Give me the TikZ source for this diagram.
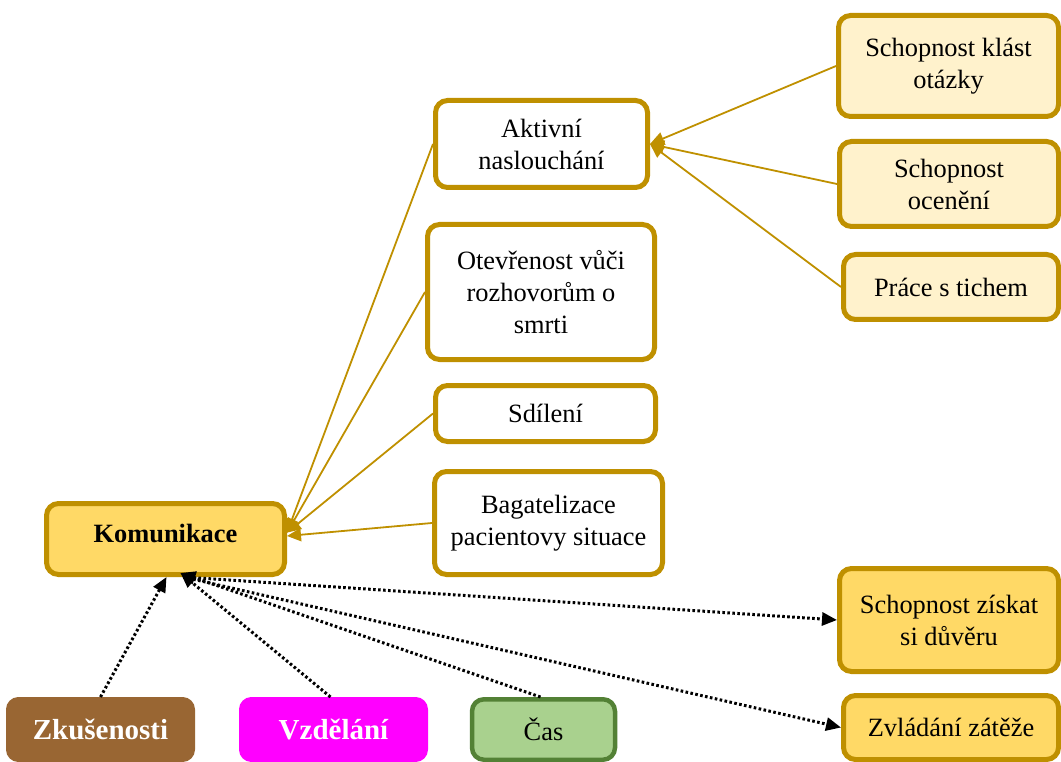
\documentclass[tikz,border=0pt]{standalone}
\usepackage{fontspec}
\setmainfont{Liberation Serif}
\usetikzlibrary{arrows.meta,calc}

\definecolor{gold}{HTML}{BF9000}
\definecolor{goldfill}{HTML}{FFD966}
\definecolor{lightfill}{HTML}{FFF2CC}
\definecolor{brownfill}{HTML}{996633}
\definecolor{magentafill}{HTML}{FF00FF}
\definecolor{greenfill}{HTML}{A9D18E}
\definecolor{greenedge}{HTML}{538135}

\tikzset{
  box/.style={rectangle, rounded corners=12pt, line width=5pt, draw=gold,
    align=center, inner sep=0pt,
    font=\fontsize{26.4}{32}\selectfont},
  whitebox/.style={box, fill=white},
  lightbox/.style={box, fill=lightfill},
  yellowbox/.style={box, fill=goldfill},
  factor/.style={rectangle, rounded corners=12pt, line width=1pt,
    align=center, inner sep=0pt, text=white,
    font=\fontsize{29}{34}\selectfont\bfseries},
  goldlink/.style={draw=gold, line width=1.8pt,
    -{Triangle[length=14pt,width=13pt]}},
  dotlink/.style={draw=black, line width=3pt, dash pattern=on 2.6pt off 2.4pt,
    -{Triangle[length=15pt,width=13pt]}},
}

\begin{document}
\begin{tikzpicture}[x=1pt,y=-1pt]
\useasboundingbox (0,0) rectangle (1061,762);

% central node and the four aspects of communication
\node[yellowbox, minimum width=238pt, minimum height=71pt,
      font=\fontsize{26.4}{32}\selectfont\bfseries] (kom) at (165.5,539)
      {\raisebox{5pt}[\height][\depth]{Komunikace}};
\node[whitebox, minimum width=212pt, minimum height=87pt] (akt) at (541.5,144) {Aktivní\\naslouchání};
\node[whitebox, minimum width=227pt, minimum height=135pt] (otev) at (541,292) {Otevřenost vůči\\rozhovorům o\\smrti};
\node[whitebox, minimum width=220pt, minimum height=56pt] (sdil) at (545.5,413.5) {Sdílení};
\node[whitebox, minimum width=228pt, minimum height=103pt] (bag) at (548.5,523) {Bagatelizace\\pacientovy situace};

% skills of active listening
\node[lightbox, minimum width=220pt, minimum height=101pt] (klast) at (948.5,66) {Schopnost klást\\otázky};
\node[lightbox, minimum width=219pt, minimum height=85pt] (ocen) at (949,184) {Schopnost\\ocenění};
\node[lightbox, minimum width=215pt, minimum height=65pt] (ticho) at (951,287) {Práce s tichem};

% outcomes
\node[yellowbox, minimum width=219pt, minimum height=103pt] (duv) at (949,620) {Schopnost získat\\si důvěru};
\node[yellowbox, minimum width=215pt, minimum height=64pt] (zvl) at (951,727.5) {Zvládání zátěže};

% influencing factors
\node[factor, fill=brownfill, draw=brownfill, minimum width=188pt, minimum height=64pt] (zk) at (100.5,729.5) {Zkušenosti};
\node[factor, fill=magentafill, draw=magentafill, minimum width=188pt, minimum height=64pt] (vzd) at (333.5,729.5) {Vzdělání};
\node[box, fill=greenfill, draw=greenedge, line width=4.5pt, minimum width=143pt, minimum height=60.5pt] (cas) at (543.5,729.5) {Čas};

% arrival points of the connectors
\coordinate (komin) at (kom.3);
\coordinate (kombot) at ([xshift=15pt,yshift=4pt]kom.south);
\coordinate (komout) at ([xshift=18pt,yshift=0pt]kom.south);

% aspects pointing to communication
\draw[goldlink] (akt.west) -- (komin);
\draw[goldlink] (otev.west) -- (komin);
\draw[goldlink] (sdil.west) -- (komin);
\draw[goldlink] (bag.west) -- ([yshift=3pt]kom.east);

% skills pointing to active listening
\draw[goldlink] (klast.west) -- (akt.east);
\draw[goldlink] (ocen.west) -- (akt.east);
\draw[goldlink] (ticho.west) -- (akt.east);

% factors influencing communication
\draw[dotlink] (zk.north) -- ([xshift=1pt]kom.south);
\draw[dotlink] ([xshift=-3pt]vzd.north) -- (kombot);
\draw[dotlink] ([xshift=-3pt]cas.north) -- (kombot);

% outcomes of communication
\draw[dotlink] (komout) -- (duv.west);
\draw[dotlink] (komout) -- (zvl.west);
\end{tikzpicture}
\end{document}
